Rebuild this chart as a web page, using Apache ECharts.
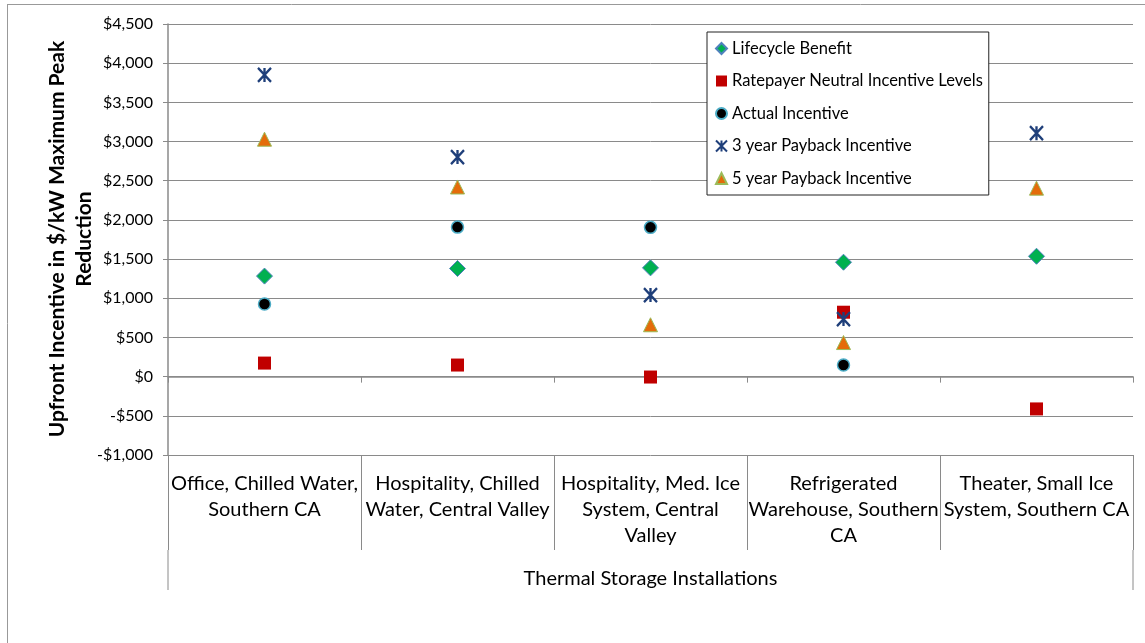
<!DOCTYPE html>
<html>
<head>
<meta charset="utf-8">
<script src="https://cdn.jsdelivr.net/npm/echarts@6/dist/echarts.min.js"></script>
<style>
html,body{margin:0;padding:0;background:#fff;}
#chart{width:1145px;height:643px;}
</style>
</head>
<body>
<div id="chart"></div>
<script>
const categories = [
  'Office, Chilled Water,\nSouthern CA',
  'Hospitality, Chilled\nWater, Central Valley',
  'Hospitality, Med. Ice\nSystem, Central\nValley',
  'Refrigerated\nWarehouse, Southern\nCA',
  'Theater, Small Ice\nSystem, Southern CA'
];
const lifecycleBenefit = [1283, 1380, 1388, 1460, 1536];
const ratepayerNeutral = [173, 148, -5, 822, -412];
const actualIncentive = [926, 1908, 1905, 148, null];
const payback3yr = [3850, 2802, 1041, 735, 3107];
const payback5yr = [3030, 2420, 662, 435, 2405];

const font = 'Lato';
const grey = '#8a8a8a';

function money(v) {
  const a = Math.abs(v).toString().replace(/\B(?=(\d{3})+(?!\d))/g, ',');
  return (v < 0 ? '-$' : '$') + a;
}

const chart = echarts.init(document.getElementById('chart'));
chart.setOption({
  backgroundColor: '#fff',
  animation: false,
  textStyle: { fontFamily: font },
  grid: { left: 168, right: 12, top: 24, bottom: 188, containLabel: false },
  legend: {
    orient: 'vertical',
    left: 707, top: 32,
    padding: [8, 6, 8, 8],
    itemGap: 15.5,
    itemWidth: 11, itemHeight: 11,
    itemTextGap: 4,
    backgroundColor: '#fff',
    borderColor: '#222', borderWidth: 1,
    textStyle: { fontFamily: font, fontSize: 16.5, color: '#000', lineHeight: 16 },
    data: ['Lifecycle Benefit', 'Ratepayer Neutral Incentive Levels', 'Actual Incentive', '3 year Payback Incentive', '5 year Payback Incentive']
  },
  xAxis: [
    {
      type: 'category', data: categories, position: 'bottom',
      axisLine: { onZero: true, lineStyle: { color: grey, width: 1.5 } },
      axisTick: { show: true, length: 6, lineStyle: { color: grey } },
      axisLabel: { show: false },
      splitLine: { show: false }
    },
    {
      type: 'category', data: categories, position: 'bottom',
      axisLine: { show: false, onZero: false },
      axisTick: { show: true, length: 95, lineStyle: { color: grey } },
      axisLabel: { interval: 0, margin: 16, fontFamily: font, fontSize: 20, color: '#000', lineHeight: 26, align: 'center' },
      name: 'Thermal Storage Installations',
      nameLocation: 'middle', nameGap: 114,
      nameTextStyle: { fontFamily: font, fontSize: 20, color: '#000' }
    }
  ],
  yAxis: {
    type: 'value', min: -1000, max: 4500, interval: 500,
    axisLine: { show: true, lineStyle: { color: grey, width: 1.5 } },
    axisTick: { show: true, length: 5, lineStyle: { color: grey } },
    axisLabel: { margin: 15, fontFamily: font, fontSize: 16, color: '#000', formatter: money },
    splitLine: { show: true, lineStyle: { color: grey, width: 1 } }
  },
  graphic: [
    { type: 'text', x: 71, y: 239, rotation: Math.PI / 2,
      style: { text: 'Upfront Incentive in $/kW Maximum Peak\nReduction', fontFamily: font, fontWeight: 'bold', fontSize: 21, lineHeight: 27, fill: '#000', align: 'center', verticalAlign: 'middle' } },
    { type: 'line', shape: { x1: 168, y1: 550, x2: 168, y2: 590 }, style: { stroke: grey, lineWidth: 1 } },
    { type: 'line', shape: { x1: 1133, y1: 550, x2: 1133, y2: 590 }, style: { stroke: grey, lineWidth: 1 } },
    { type: 'line', shape: { x1: 7, y1: 4.5, x2: 1145, y2: 4.5 }, style: { stroke: '#999', lineWidth: 1 } },
    { type: 'line', shape: { x1: 7.5, y1: 4, x2: 7.5, y2: 643 }, style: { stroke: '#999', lineWidth: 1 } }
  ],
  series: [
    { name: 'Lifecycle Benefit', type: 'scatter', data: lifecycleBenefit, symbol: 'diamond', symbolSize: 16,
      itemStyle: { color: '#00B050', borderColor: '#4F81BD', borderWidth: 1, opacity: 1 } },
    { name: 'Ratepayer Neutral Incentive Levels', type: 'scatter', data: ratepayerNeutral, symbol: 'rect', symbolSize: 13,
      itemStyle: { color: '#C00000', opacity: 1 } },
    { name: 'Actual Incentive', type: 'scatter', data: actualIncentive, symbol: 'circle', symbolSize: 12,
      itemStyle: { color: '#000', borderColor: '#4BACC6', borderWidth: 1.5, opacity: 1 } },
    { name: '3 year Payback Incentive', type: 'scatter', data: payback3yr,
      symbol: 'path://M0,0L12,12M12,0L0,12M6,0L6,12', symbolSize: [13, 14],
      itemStyle: { color: 'rgba(0,0,0,0)', borderColor: '#1F3F7A', borderWidth: 2.4, opacity: 1 } },
    { name: '5 year Payback Incentive', type: 'scatter', data: payback5yr, symbol: 'triangle', symbolSize: 14,
      itemStyle: { color: '#E46C0A', borderColor: '#9BBB59', borderWidth: 1, opacity: 1 } }
  ]
});
</script>
</body>
</html>
